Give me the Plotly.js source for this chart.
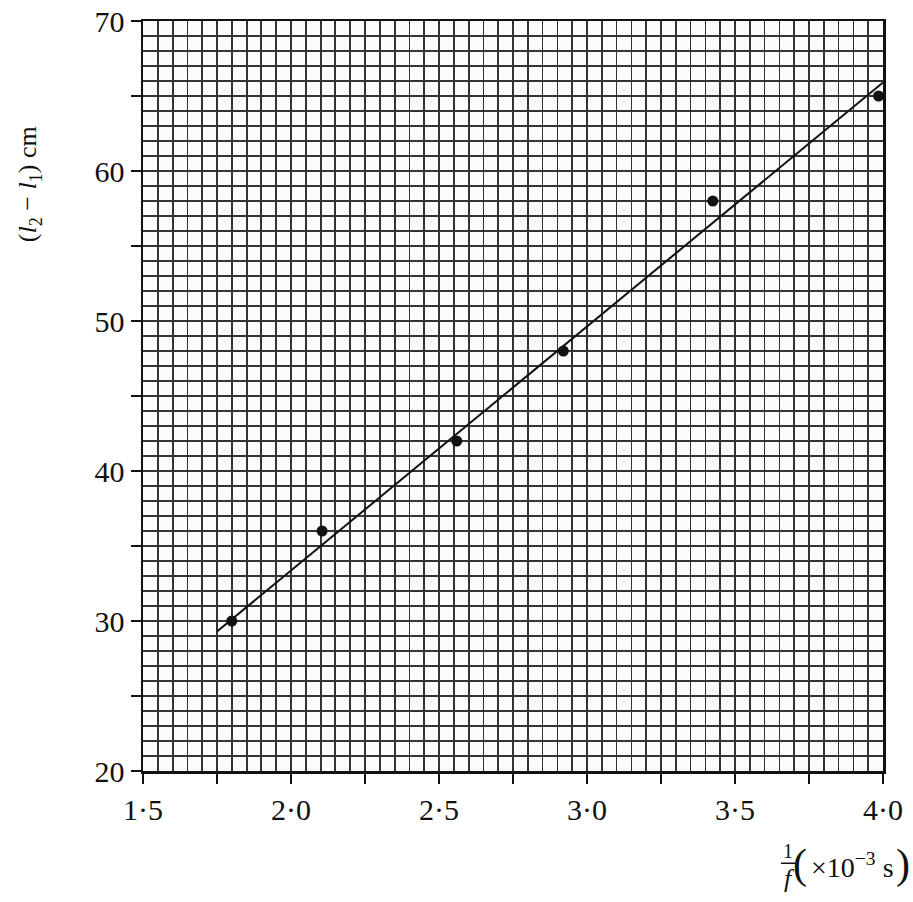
<!DOCTYPE html>
<html>
<head>
<meta charset="utf-8">
<script src="https://cdn.plot.ly/plotly-3.0.1.min.js"></script>
<style>html,body{margin:0;padding:0;background:#fff;}</style>
</head>
<body>
<div id="chart" style="width:913px;height:902px;"></div>
<script>
// Data
const invF = [1.80, 2.105, 2.56, 2.92, 3.425, 3.985];      // 1/f (x10^-3 s)
const lenDiff = [30, 36, 42, 48, 58, 65];                    // (l2 - l1) cm
const fitX = [1.75, 4.0];                                    // best-fit line ends
const fitY = [29.3, 65.9];

const xTickVals = [1.5, 1.75, 2.0, 2.25, 2.5, 2.75, 3.0, 3.25, 3.5, 3.75, 4.0];
const xTickText = ['1·5', ' ', '2·0', ' ', '2·5', ' ', '3·0', ' ', '3·5', ' ', '4·0'];
const yTickVals = [20, 25, 30, 35, 40, 45, 50, 55, 60, 65, 70];
const yTickText = ['20', ' ', '30', ' ', '40', ' ', '50', ' ', '60', ' ', '70'];

const serif = '"Liberation Serif", "DejaVu Serif", serif';
const gridCol = '#333333';

const traces = [
  {
    x: fitX, y: fitY, type: 'scatter', mode: 'lines',
    line: {color: '#111', width: 2}, hoverinfo: 'skip', showlegend: false
  },
  {
    x: invF, y: lenDiff, type: 'scatter', mode: 'markers',
    marker: {color: '#111', size: 11}, showlegend: false
  }
];

function axisCommon() {
  return {
    showline: true, linecolor: '#111', linewidth: 2.5, mirror: true,
    ticks: 'outside', ticklen: 10, tickwidth: 2, tickcolor: '#111',
    tickmode: 'array', showgrid: true, gridcolor: gridCol, gridwidth: 1.8,
    zeroline: false, tickfont: {family: serif, size: 30, color: '#111'}
  };
}

function note(x, y, text, size, extra) {
  return Object.assign({
    xref: 'paper', yref: 'paper', x: x, y: y, text: text, showarrow: false,
    xanchor: 'center', yanchor: 'middle',
    font: {family: serif, size: size, color: '#111'}
  }, extra || {});
}

const layout = {
  width: 913, height: 902,
  margin: {l: 143, r: 30, t: 21, b: 131},
  paper_bgcolor: '#fff', plot_bgcolor: '#fbfbfb',
  xaxis: Object.assign(axisCommon(), {
    range: [1.5, 4.0], tickvals: xTickVals, ticktext: xTickText,
    minor: {dtick: 0.05, tick0: 1.5, showgrid: true, gridcolor: gridCol, gridwidth: 1.8, ticks: ''}
  }),
  yaxis: Object.assign(axisCommon(), {
    range: [20, 70], tickvals: yTickVals, ticktext: yTickText,
    minor: {dtick: 1, tick0: 20, showgrid: true, gridcolor: gridCol, gridwidth: 1.8, ticks: ''}
  }),
  annotations: [
    note(-0.153, 0.782, '(<i>l</i><sub>2</sub> − <i>l</i><sub>1</sub>) cm', 26, {textangle: -90}),
    note(0.872, -0.107, '1', 20),
    note(0.873, -0.143, '<i>f</i>', 26),
    note(0.888, -0.124, '(', 42),
    note(0.900, -0.126, '×10<sup>−3</sup> s', 28, {xanchor: 'left'}),
    note(1.027, -0.124, ')', 42)
  ],
  shapes: [
    {
      type: 'line', xref: 'paper', yref: 'paper',
      x0: 0.862, x1: 0.884, y0: -0.123, y1: -0.123,
      line: {color: '#111', width: 1.5}
    }
  ]
};

Plotly.newPlot('chart', traces, layout, {displayModeBar: false, staticPlot: true});
</script>
</body>
</html>
